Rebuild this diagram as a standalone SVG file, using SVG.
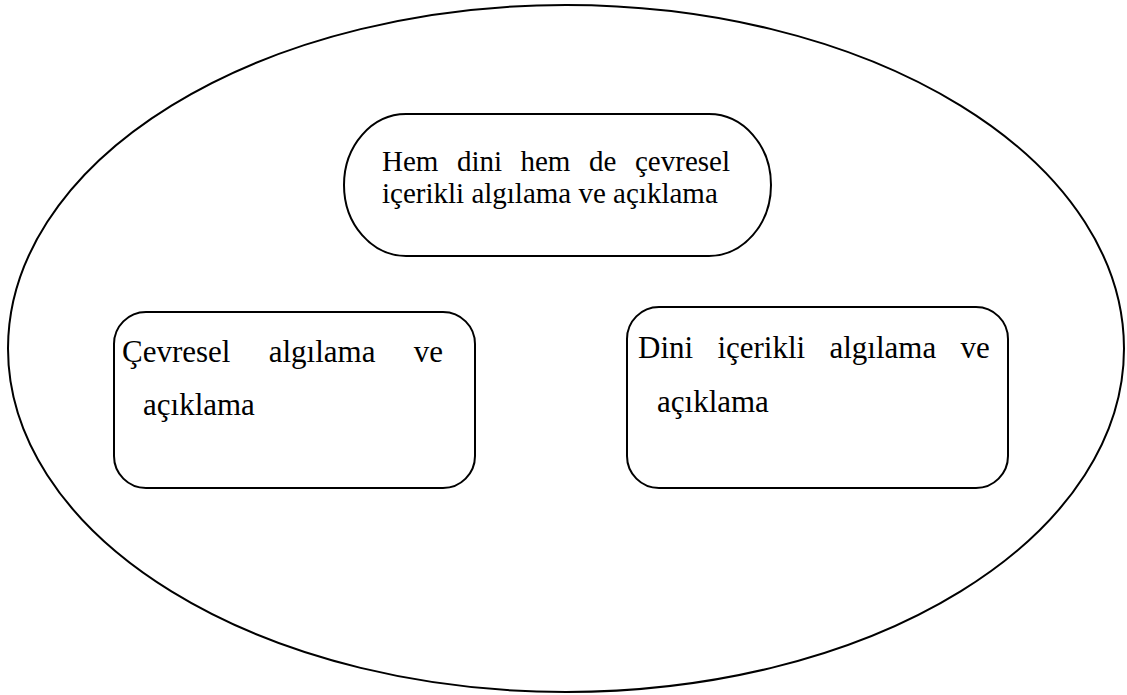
<svg xmlns="http://www.w3.org/2000/svg" width="1127" height="695" viewBox="0 0 1127 695">
<style>
.s{fill:#fff;stroke:#000;stroke-width:2}
.t{font-family:"Liberation Serif","Times New Roman",serif;fill:#000}
</style>
<rect width="1127" height="695" fill="#fff"/>
<g id="outer"><ellipse class="s" cx="566" cy="348.5" rx="558" ry="343.5"/></g>
<g id="top">
<rect class="s" x="344" y="114" width="427" height="142" rx="62" ry="71"/>
<text class="t" font-size="29" y="171"><tspan x="382">Hem</tspan><tspan x="457">dini</tspan><tspan x="520.5">hem</tspan><tspan x="589">de</tspan><tspan x="635">çevresel</tspan></text>
<text class="t" font-size="29" x="382" y="203">içerikli algılama ve açıklama</text>
</g>
<g id="left">
<rect class="s" x="114" y="312" width="361" height="176" rx="32" ry="32"/>
<text class="t" font-size="31" y="362"><tspan x="122">Çevresel</tspan><tspan x="268.7">algılama</tspan><tspan x="413.7">ve</tspan></text>
<text class="t" font-size="31" x="143" y="415">açıklama</text>
</g>
<g id="right">
<rect class="s" x="627" y="307" width="381" height="181" rx="32" ry="32"/>
<text class="t" font-size="31" y="358"><tspan x="638">Dini</tspan><tspan x="717.4">içerikli</tspan><tspan x="829.5">algılama</tspan><tspan x="960.6">ve</tspan></text>
<text class="t" font-size="31" x="657" y="412">açıklama</text>
</g>
<g id="connectors"></g>
</svg>
